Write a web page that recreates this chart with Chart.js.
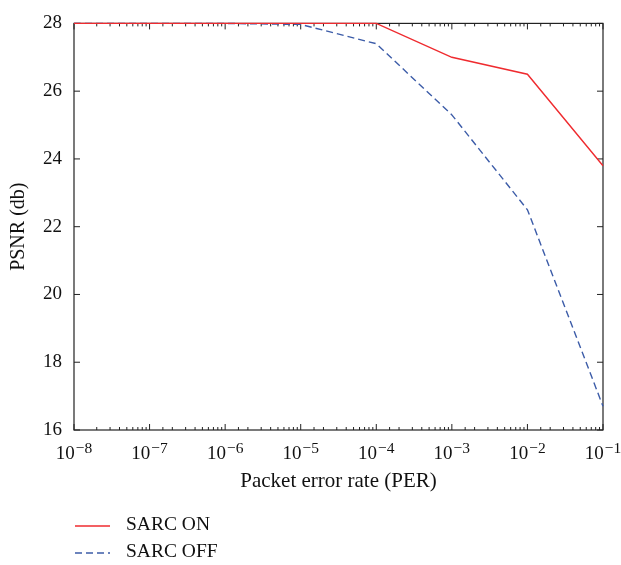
<html>
<body style="margin:0;background:#fff">
<canvas id="myChart" width="621" height="565"></canvas>
<script src="https://cdn.jsdelivr.net/npm/chart.js@4.4.0/dist/chart.umd.min.js"></script>
<script>
    const xValues = [1e-8, 1e-7, 1e-6, 1e-5, 1e-4, 1e-3, 1e-2, 1e-1];
    const sarcOn = [28, 28, 28, 28, 28, 27.0, 26.5, 23.8];
    const sarcOff = [28, 28, 28, 27.97, 27.4, 25.3, 22.5, 16.7];
    const yTicks = [16, 18, 20, 22, 24, 26, 28];

    const serif = "'Liberation Serif', 'Times New Roman', serif";

    function decade(v) {
        const e = Math.round(Math.log10(v));
        return Math.abs(Math.log10(v) - e) < 1e-6 ? e : null;
    }

    // box with inward ticks, 10^n labels with a raised exponent, and the legend underneath
    const frame = {
        id: "frame",
        beforeDatasetsDraw(chart) {
            const {ctx, chartArea: a, scales} = chart;
            ctx.save();
            ctx.strokeStyle = "#222";
            ctx.lineWidth = 1.2;
            ctx.strokeRect(a.left, a.top, a.right - a.left, a.bottom - a.top);
            ctx.lineWidth = 1;
            ctx.beginPath();
            scales.x.ticks.forEach(t => {
                const x = scales.x.getPixelForValue(t.value);
                const len = decade(t.value) !== null ? 6 : 3;
                ctx.moveTo(x, a.bottom); ctx.lineTo(x, a.bottom - len);
                ctx.moveTo(x, a.top); ctx.lineTo(x, a.top + len);
            });
            scales.y.ticks.forEach(t => {
                const y = scales.y.getPixelForValue(t.value);
                ctx.moveTo(a.left, y); ctx.lineTo(a.left + 6, y);
                ctx.moveTo(a.right, y); ctx.lineTo(a.right - 6, y);
            });
            ctx.stroke();
            ctx.restore();
        },
        afterDraw(chart) {
            const {ctx, chartArea: a, scales} = chart;
            ctx.save();
            ctx.fillStyle = "#111";
            ctx.textBaseline = "alphabetic";
            ctx.textAlign = "left";
            scales.x.ticks.forEach(t => {
                const e = decade(t.value);
                if (e === null) return;
                const x = scales.x.getPixelForValue(t.value);
                const exp = "\u2212" + Math.abs(e);
                ctx.font = "19px " + serif;
                const w1 = ctx.measureText("10").width;
                ctx.font = "15.5px " + serif;
                const w2 = ctx.measureText(exp).width;
                const x0 = x - (w1 + w2 + 1) / 2;
                ctx.font = "19px " + serif;
                ctx.fillText("10", x0, a.bottom + 29);
                ctx.font = "15.5px " + serif;
                ctx.fillText(exp, x0 + w1 + 1, a.bottom + 23);
            });

            ctx.font = "19.5px " + serif;
            ctx.textBaseline = "middle";
            chart.data.datasets.forEach((ds, i) => {
                const y = a.bottom + 96 + i * 27;
                ctx.strokeStyle = ds.borderColor;
                ctx.lineWidth = ds.borderWidth;
                ctx.setLineDash(ds.borderDash || []);
                ctx.beginPath();
                ctx.moveTo(a.left + 1, y); ctx.lineTo(a.left + 36, y);
                ctx.stroke();
                ctx.fillText(ds.label, a.left + 52, y - 1);
            });
            ctx.restore();
        }
    };

    new Chart("myChart", {
        type: "line",
        data: {
            labels: xValues,
            datasets: [{
                label: "SARC ON",
                data: sarcOn,
                borderColor: "#ef2b2f",
                borderWidth: 1.4,
                pointRadius: 0,
                tension: 0,
                clip: false
            }, {
                label: "SARC OFF",
                data: sarcOff,
                borderColor: "#3c5ca8",
                borderWidth: 1.4,
                borderDash: [7, 4],
                pointRadius: 0,
                tension: 0,
                clip: false
            }]
        },
        options: {
            responsive: false,
            animation: false,
            layout: {padding: {left: 0, right: 18, top: 17, bottom: 71}},
            plugins: {legend: {display: false}, tooltip: {enabled: false}},
            scales: {
                x: {
                    type: "logarithmic",
                    min: 1e-8,
                    max: 1e-1,
                    grid: {display: false, drawTicks: false},
                    border: {display: false},
                    ticks: {display: false, autoSkip: false},
                    title: {display: true, text: "Packet error rate (PER)", color: "#111",
                        font: {family: serif, size: 21}, padding: {top: 0, bottom: 0}},
                    afterFit(s) { s.height = 64; s.paddingLeft = 0; s.paddingRight = 0; }
                },
                y: {
                    min: 16,
                    max: 28,
                    afterBuildTicks(s) { s.ticks = yTicks.map(v => ({value: v})); },
                    grid: {display: false, drawTicks: false},
                    border: {display: false},
                    ticks: {padding: 12, color: "#111", font: {family: serif, size: 19}},
                    title: {display: true, text: "PSNR (db)", color: "#111",
                        font: {family: serif, size: 20}, padding: {top: 7, bottom: 0}},
                    afterFit(s) { s.width = 74; }
                }
            }
        },
        plugins: [frame]
    });
</script>
</body>
</html>
